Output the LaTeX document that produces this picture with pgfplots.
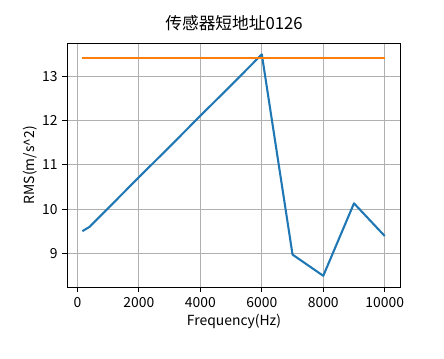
\documentclass[border=0pt]{standalone}
\usepackage{pgfplots}
\pgfplotsset{compat=1.18}
\usepackage{fontspec}
\setmainfont{Noto Sans CJK SC}
\definecolor{mplblue}{HTML}{1F77B4}
\definecolor{mplorange}{HTML}{FF7F0E}
\definecolor{mplgrid}{HTML}{B0B0B0}
\begin{document}
\fontsize{13.9bp}{16bp}\selectfont
\begin{tikzpicture}
\path[use as bounding box] (0,0) rectangle (444bp,359bp);
\begin{axis}[
  at={(67.3bp,71.7bp)}, anchor=south west,
  width=333.4bp, height=244bp, scale only axis,
  xmin=-330, xmax=10520, ymin=8.23, ymax=13.75,
  xtick={0,2000,4000,6000,8000,10000},
  ytick={9,10,11,12,13},
  scaled x ticks=false,
  /pgf/number format/1000 sep={},
  /pgf/number format/assume math mode=true,
  tick align=outside, tick pos=left,
  major tick length=4.9bp,
  every tick/.style={black, line width=0.8bp},
  axis line style={black, line width=0.8bp},
  grid=major,
  major grid style={mplgrid, line width=0.8bp},
  ticklabel style={font=\fontsize{13.9bp}{16bp}\selectfont},
  title={传感器短地址0126},
  title style={font=\fontsize{16.7bp}{19bp}\selectfont, at={(axis description cs:0.5,1)}, anchor=base, yshift=8.3bp, inner sep=0pt},
  xlabel={Frequency(Hz)},
  ylabel={RMS(m/s\textasciicircum 2)},
  xlabel style={font=\fontsize{13.9bp}{16bp}\selectfont, at={(axis description cs:0.5,0)}, anchor=center, yshift=-34bp, inner sep=0pt},
  every axis y label/.style={at={(axis description cs:0,0.5)}, xshift=-37.3bp, rotate=90, anchor=center, inner sep=0pt, font=\fontsize{13.9bp}{16bp}\selectfont},
]
\addplot[mplblue, line width=2.08bp, line join=round] coordinates {
(160,9.50) (400,9.60) (1000,10.02) (2000,10.72) (3000,11.41) (4000,12.11) (5000,12.80) (6000,13.50) (7000,8.97) (8000,8.49) (9000,10.13) (10000,9.39)
};
\addplot[mplorange, line width=2.08bp] coordinates {
(160,13.41) (10000,13.41)
};
\end{axis}
\end{tikzpicture}
\end{document}
